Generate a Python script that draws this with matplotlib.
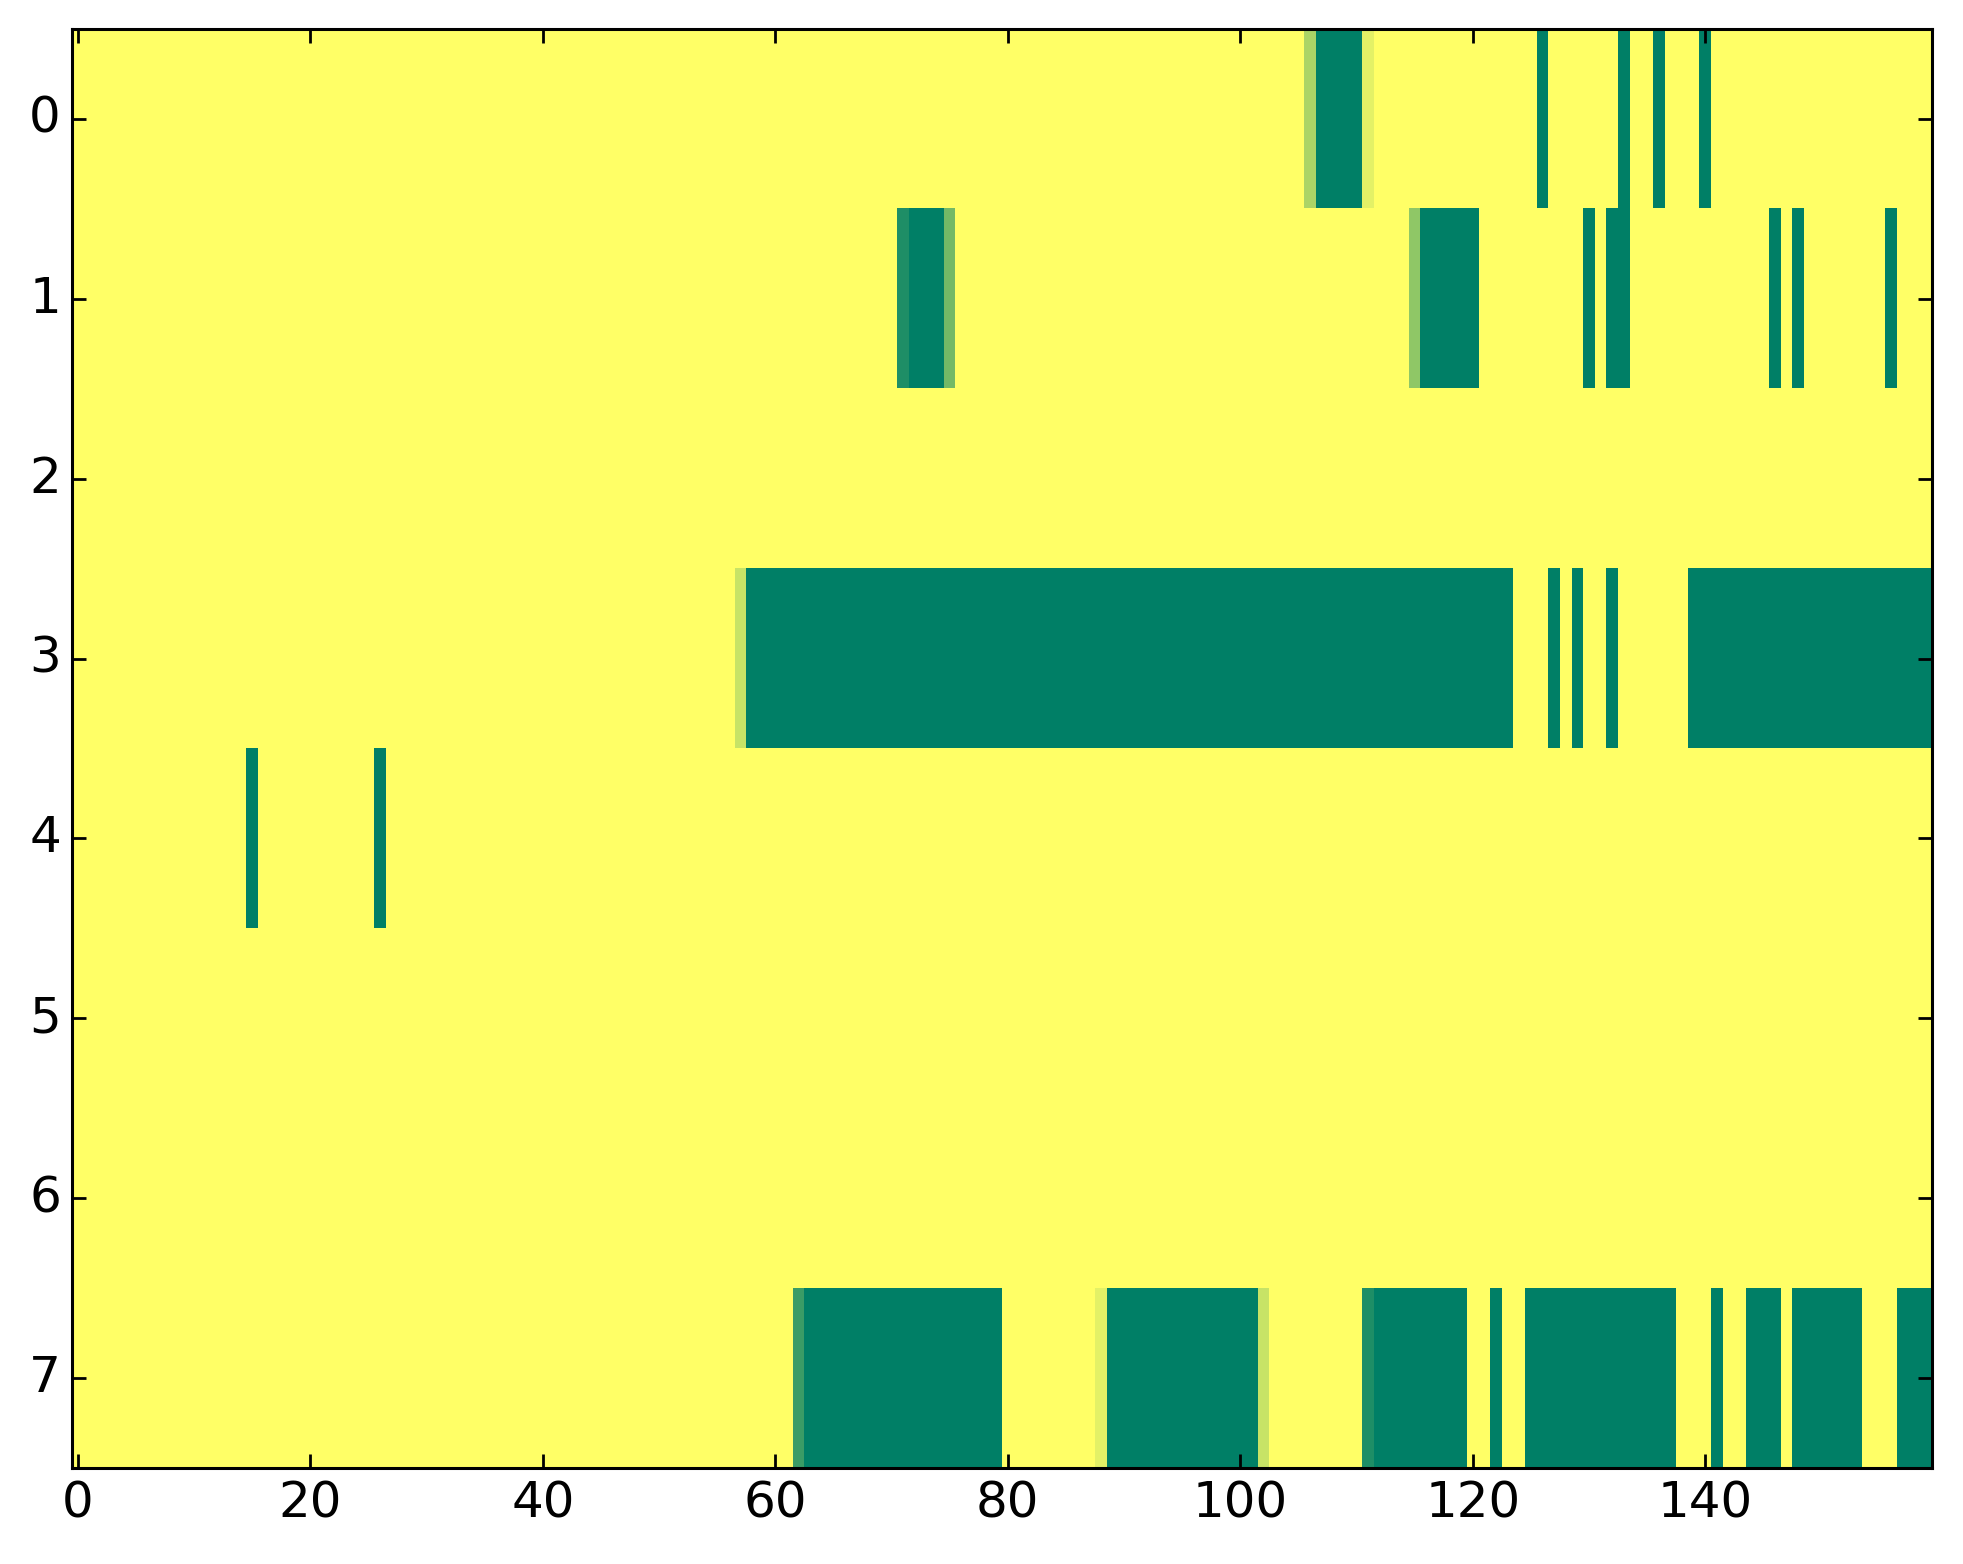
import numpy as np
import matplotlib
matplotlib.use('Agg')
import matplotlib.pyplot as plt

plt.style.use('classic')

n_rows = 8
n_cols = 160

# green runs (value 0) per row, as inclusive (start, end) column pairs
row0_runs = [(107, 110), (126, 126), (133, 133), (136, 136), (140, 140)]
row1_runs = [(72, 74), (116, 120), (130, 130), (132, 133), (146, 146), (148, 148), (156, 156)]
row2_runs = []
row3_runs = [(58, 123), (127, 127), (129, 129), (132, 132), (139, 159)]
row4_runs = [(15, 15), (26, 26)]
row5_runs = []
row6_runs = []
row7_runs = [(63, 79), (89, 101), (112, 119), (122, 122), (125, 137), (141, 141),
             (144, 146), (148, 153), (157, 159)]

# cells with in-between values
row0_partial = {106: 0.67, 111: 0.89}
row1_partial = {71: 0.12, 75: 0.45, 115: 0.56}
row3_partial = {57: 0.78}
row7_partial = {62: 0.23, 88: 0.89, 102: 0.78, 111: 0.12}

all_runs = [row0_runs, row1_runs, row2_runs, row3_runs, row4_runs, row5_runs, row6_runs, row7_runs]
all_partial = {0: row0_partial, 1: row1_partial, 3: row3_partial, 7: row7_partial}

data = np.ones((n_rows, n_cols))
for r, runs in enumerate(all_runs):
    for a, b in runs:
        data[r, a:b + 1] = 0.0
for r, cells in all_partial.items():
    for c, v in cells.items():
        data[r, c] = v

fig = plt.figure(figsize=(9.815, 7.82), dpi=200)
ax = fig.add_axes([0.0367, 0.0614, 0.9475, 0.9201])
ax.imshow(data, cmap='summer', vmin=0, vmax=1, aspect='auto', interpolation='nearest')

ax.set_yticks(range(n_rows))
ax.tick_params(labelsize=18, length=5, width=1)
for s in ax.spines.values():
    s.set_linewidth(1.1)

fig.savefig('out.png', dpi=200)
